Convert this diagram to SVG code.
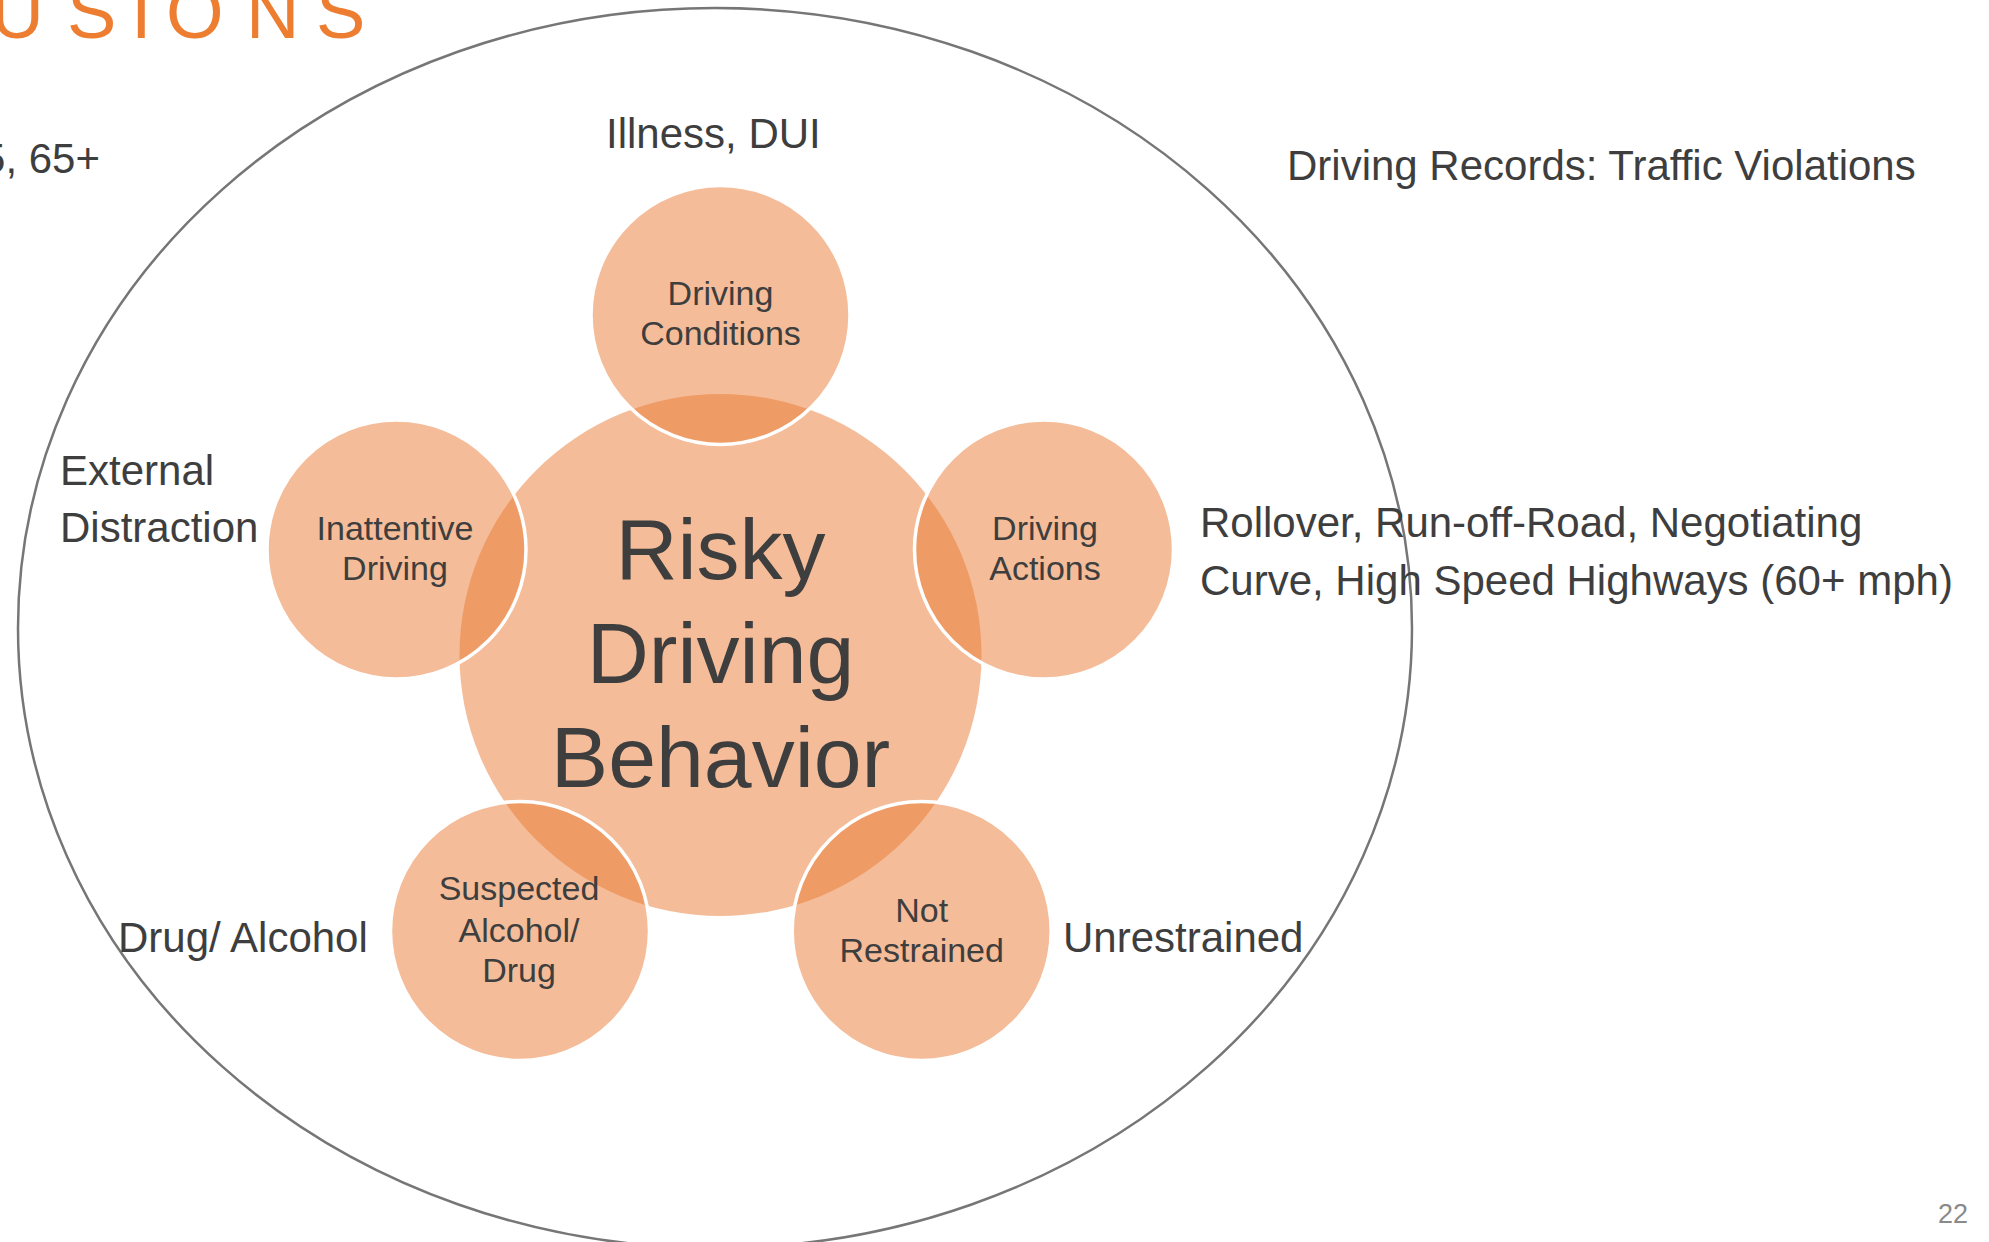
<svg xmlns="http://www.w3.org/2000/svg" width="1989" height="1242" viewBox="0 0 1989 1242">
  <style>
    .bubble { fill: #E97A31; fill-opacity: 0.5; }
    .sat { fill: #E97A31; fill-opacity: 0.5; stroke: #FFFFFF; stroke-width: 3.5; }
    .lbl { font-family: "Liberation Sans", Arial, sans-serif; fill: #3E3E3E; }
    .out { font-size: 42px; }
    .node { font-size: 34px; text-anchor: middle; }
    .center { font-size: 86px; text-anchor: middle; }
  </style>
  <rect x="0" y="0" width="1989" height="1242" fill="#FFFFFF"/>

  <g id="title">
    <text class="lbl" x="-9.5 67 131 166 246 316" y="38" font-size="74" style="fill:#ED7D31">USIONS</text>
  </g>

  <g id="outer-ellipse">
    <ellipse cx="715" cy="628" rx="697" ry="620" fill="none" stroke="#767676" stroke-width="2.5"/>
  </g>

  <g id="node-center">
    <circle class="bubble" cx="720.5" cy="655" r="261"/>
  </g>

  <g id="node-driving-conditions">
    <circle class="sat" cx="720.5" cy="315" r="129.5"/>
    <text class="lbl node" x="720.5" y="305">Driving</text>
    <text class="lbl node" x="720.5" y="345">Conditions</text>
  </g>

  <g id="node-inattentive-driving">
    <circle class="sat" cx="396.5" cy="549.5" r="129.5"/>
    <text class="lbl node" x="395" y="540">Inattentive</text>
    <text class="lbl node" x="395" y="580">Driving</text>
  </g>

  <g id="node-driving-actions">
    <circle class="sat" cx="1044" cy="549.5" r="129.5"/>
    <text class="lbl node" x="1045" y="540">Driving</text>
    <text class="lbl node" x="1045" y="580">Actions</text>
  </g>

  <g id="node-suspected-alcohol-drug">
    <circle class="sat" cx="520" cy="931" r="129.5"/>
    <text class="lbl node" x="519" y="900">Suspected</text>
    <text class="lbl node" x="519" y="942">Alcohol/</text>
    <text class="lbl node" x="519" y="982">Drug</text>
  </g>

  <g id="node-not-restrained">
    <circle class="sat" cx="921.7" cy="931" r="129.5"/>
    <text class="lbl node" x="921.7" y="922">Not</text>
    <text class="lbl node" x="921.7" y="962">Restrained</text>
  </g>

  <g id="center-label">
    <text class="lbl center" x="720.5" y="579">Risky</text>
    <text class="lbl center" x="720.5" y="683">Driving</text>
    <text class="lbl center" x="720.5" y="787">Behavior</text>
  </g>

  <g id="labels">
    <text class="lbl out" x="100" y="173" text-anchor="end">5, 65+</text>
    <text class="lbl out" x="606" y="148">Illness, DUI</text>
    <text class="lbl out" x="1287" y="180" font-size="44">Driving Records: Traffic Violations</text>
    <text class="lbl out" x="60" y="485">External</text>
    <text class="lbl out" x="60" y="542" font-size="43">Distraction</text>
    <text class="lbl out" x="1200" y="537" font-size="43">Rollover, Run-off-Road, Negotiating</text>
    <text class="lbl out" x="1200" y="595" font-size="42.5">Curve, High Speed Highways (60+ mph)</text>
    <text class="lbl out" x="118" y="952" font-size="43">Drug/ Alcohol</text>
    <text class="lbl out" x="1063" y="952" font-size="43.5">Unrestrained</text>
  </g>

  <g id="page-number">
    <text class="lbl" x="1938" y="1223" font-size="27" style="fill:#8A8A8A">22</text>
  </g>
</svg>
